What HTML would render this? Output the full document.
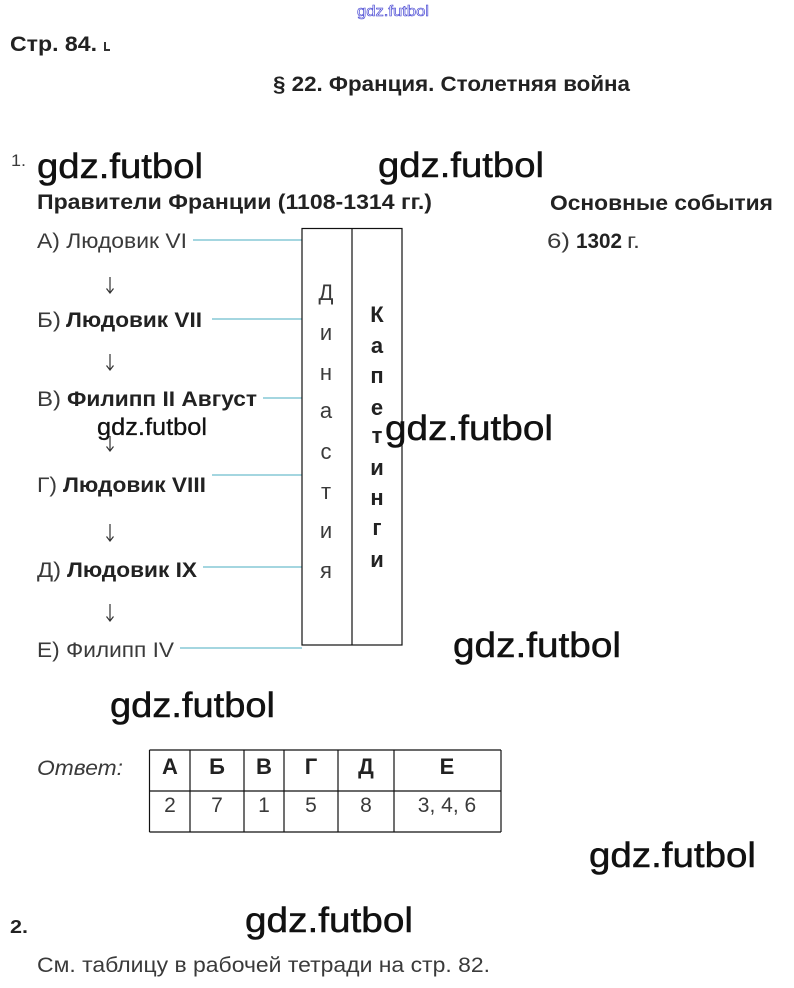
<!DOCTYPE html>
<html><head><meta charset="utf-8"><style>
html,body{margin:0;padding:0;background:#fff;}
svg{display:block;}
text{font-family:"Liberation Sans",Arial,sans-serif;}
.r{fill:#3a3a3a;font-size:21px;}
.b{fill:#222;font-size:21px;font-weight:bold;}
.w{fill:#111;font-size:35px;stroke:#111;stroke-width:0.5;}
</style></head><body>
<svg width="794" height="988" viewBox="0 0 794 988" xmlns="http://www.w3.org/2000/svg">
<rect width="794" height="988" fill="#fff"/>
<!-- top blue watermark -->
<text x="357" y="16" font-size="15" fill="#fff" stroke="#3a3ad0" stroke-width="0.6" textLength="72" lengthAdjust="spacingAndGlyphs">gdz.futbol</text>

<text class="b" x="10" y="51" textLength="87" lengthAdjust="spacingAndGlyphs">Стр. 84.</text>
<path d="M105 42 L105 50 L110 50" stroke="#333" stroke-width="2" fill="none"/>
<text class="b" x="273" y="91" textLength="357" lengthAdjust="spacingAndGlyphs">§ 22. Франция. Столетняя война</text>

<text class="r" x="11" y="166" style="font-size:17px" textLength="15" lengthAdjust="spacingAndGlyphs">1.</text>
<text class="b" x="37" y="209" textLength="395" lengthAdjust="spacingAndGlyphs">Правители Франции (1108-1314 гг.)</text>
<text class="b" x="550" y="210" textLength="223" lengthAdjust="spacingAndGlyphs">Основные события</text>
<text class="r" x="547" y="248" textLength="23" lengthAdjust="spacingAndGlyphs">6)</text>
<text class="b" x="576" y="248" textLength="46" lengthAdjust="spacingAndGlyphs">1302</text>
<text class="r" x="627" y="248" textLength="13" lengthAdjust="spacingAndGlyphs">г.</text>

<!-- rulers -->
<text class="r" x="37" y="248" textLength="150" lengthAdjust="spacingAndGlyphs">А) Людовик VI</text>
<text class="r" x="37" y="327" textLength="24" lengthAdjust="spacingAndGlyphs">Б)</text>
<text class="b" x="66" y="327" textLength="136" lengthAdjust="spacingAndGlyphs">Людовик VII</text>
<text class="r" x="37" y="406" textLength="24" lengthAdjust="spacingAndGlyphs">В)</text>
<text class="b" x="67" y="406" textLength="190" lengthAdjust="spacingAndGlyphs">Филипп II Август</text>
<text class="r" x="37" y="492" textLength="20" lengthAdjust="spacingAndGlyphs">Г)</text>
<text class="b" x="63" y="492" textLength="143" lengthAdjust="spacingAndGlyphs">Людовик VIII</text>
<text class="r" x="37" y="577" textLength="24" lengthAdjust="spacingAndGlyphs">Д)</text>
<text class="b" x="67" y="577" textLength="130" lengthAdjust="spacingAndGlyphs">Людовик IX</text>
<text class="r" x="37" y="657" textLength="137" lengthAdjust="spacingAndGlyphs">Е) Филипп IV</text>

<!-- arrows -->
<g stroke="#333" stroke-width="1.2" fill="none">
<path d="M110 277 V293 M106.5 288.5 L110 293 L113.5 288.5"/>
<path d="M110 354 V370 M106.5 365.5 L110 370 L113.5 365.5"/>
<path d="M110 436 V451 M106.5 446.5 L110 451 L113.5 446.5"/>
<path d="M110 524 V541 M106.5 536.5 L110 541 L113.5 536.5"/>
<path d="M110 604 V621 M106.5 616.5 L110 621 L113.5 616.5"/>
</g>

<!-- connectors -->
<g stroke="#86c8d6" stroke-width="1.6">
<line x1="193" y1="240" x2="302" y2="240"/>
<line x1="212" y1="319" x2="302" y2="319"/>
<line x1="263" y1="398" x2="302" y2="398"/>
<line x1="212" y1="475" x2="302" y2="475"/>
<line x1="203" y1="567" x2="302" y2="567"/>
<line x1="180" y1="648" x2="302" y2="648"/>
</g>

<!-- box -->
<rect x="302" y="228.5" width="100" height="416.5" fill="none" stroke="#111" stroke-width="1.2"/>
<line x1="352" y1="228.5" x2="352" y2="645" stroke="#111" stroke-width="1.2"/>

<g class="r" text-anchor="middle" style="font-size:22px">
<text x="326" y="300">Д</text>
<text x="326" y="340">и</text>
<text x="326" y="380">н</text>
<text x="326" y="418">а</text>
<text x="326" y="459">с</text>
<text x="326" y="499">т</text>
<text x="326" y="538">и</text>
<text x="326" y="578">я</text>
</g>
<g class="b" text-anchor="middle" style="font-size:22px">
<text x="377" y="322">К</text>
<text x="377" y="353">а</text>
<text x="377" y="383">п</text>
<text x="377" y="415">е</text>
<text x="377" y="443">т</text>
<text x="377" y="475">и</text>
<text x="377" y="505">н</text>
<text x="377" y="535">г</text>
<text x="377" y="567">и</text>
</g>

<!-- answer table -->
<text class="r" x="37" y="775" font-style="italic" textLength="86" lengthAdjust="spacingAndGlyphs">Ответ:</text>
<g stroke="#111" stroke-width="1.2">
<line x1="149.5" y1="750" x2="501" y2="750"/>
<line x1="149.5" y1="791" x2="501" y2="791"/>
<line x1="149.5" y1="832" x2="501" y2="832"/>
<line x1="149.5" y1="750" x2="149.5" y2="832"/>
<line x1="190" y1="750" x2="190" y2="832"/>
<line x1="244" y1="750" x2="244" y2="832"/>
<line x1="284" y1="750" x2="284" y2="832"/>
<line x1="338" y1="750" x2="338" y2="832"/>
<line x1="394" y1="750" x2="394" y2="832"/>
<line x1="501" y1="750" x2="501" y2="832"/>
</g>
<g class="b" text-anchor="middle" style="font-size:22px">
<text x="170" y="774">А</text>
<text x="217" y="774">Б</text>
<text x="264" y="774">В</text>
<text x="311" y="774">Г</text>
<text x="366" y="774">Д</text>
<text x="447" y="774">Е</text>
</g>
<g class="r" text-anchor="middle">
<text x="170" y="812">2</text>
<text x="217" y="812">7</text>
<text x="264" y="812">1</text>
<text x="311" y="812">5</text>
<text x="366" y="812">8</text>
<text x="447" y="812">3, 4, 6</text>
</g>

<text class="b" x="10" y="933" style="font-size:18px" textLength="18" lengthAdjust="spacingAndGlyphs">2.</text>
<text class="r" x="37" y="972" textLength="453" lengthAdjust="spacingAndGlyphs">См. таблицу в рабочей тетради на стр. 82.</text>

<!-- watermarks -->
<text class="w" x="37" y="178" textLength="166" lengthAdjust="spacingAndGlyphs">gdz.futbol</text>
<text class="w" x="378" y="177" textLength="166" lengthAdjust="spacingAndGlyphs">gdz.futbol</text>
<text class="w" x="97" y="435" style="font-size:24px;stroke-width:0.3" textLength="110" lengthAdjust="spacingAndGlyphs">gdz.futbol</text>
<text class="w" x="385" y="440" textLength="168" lengthAdjust="spacingAndGlyphs">gdz.futbol</text>
<text class="w" x="453" y="657" textLength="168" lengthAdjust="spacingAndGlyphs">gdz.futbol</text>
<text class="w" x="110" y="717" textLength="165" lengthAdjust="spacingAndGlyphs">gdz.futbol</text>
<text class="w" x="589" y="867" textLength="167" lengthAdjust="spacingAndGlyphs">gdz.futbol</text>
<text class="w" x="245" y="932" textLength="168" lengthAdjust="spacingAndGlyphs">gdz.futbol</text>
</svg>
</body></html>
